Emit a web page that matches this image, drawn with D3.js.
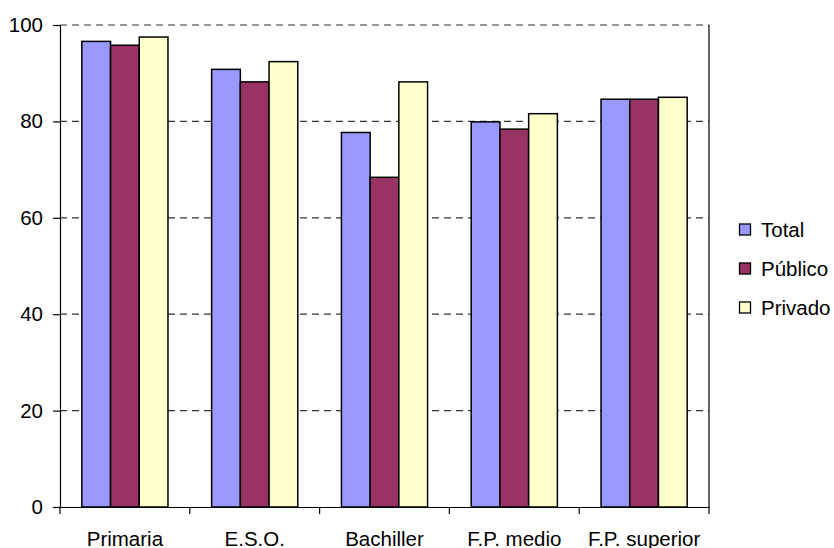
<!DOCTYPE html>
<html><head><meta charset="utf-8">
<script src="https://cdn.jsdelivr.net/npm/d3@7"></script>
<style>body{margin:0;background:#fff}svg{display:block;font-family:"Liberation Sans",Arial,sans-serif}</style>
</head><body><svg id="c" width="834" height="548"></svg>
<script>
const categories = ["Primaria","E.S.O.","Bachiller","F.P. medio","F.P. superior"];
const seriesNames = ["Total","Público","Privado"];
const total   = [96.6, 90.8, 77.7, 79.9, 84.6];
const publico = [95.8, 88.2, 68.4, 78.4, 84.6];
const privado = [97.5, 92.4, 88.2, 81.6, 85.0];
const yTicks = [0,20,40,60,80,100];
const colors = ["#9999FF","#993366","#FFFFCC"];
const values = [total, publico, privado];

const svg = d3.select("#c");
const L=60, R=709, T=25, B=507;
const x0 = d3.scaleBand().domain(categories).range([L,R]).padding(0);
const x1 = d3.scaleBand().domain(seriesNames).range([0,x0.bandwidth()]).paddingInner(0).paddingOuter(0.76);
const y = d3.scaleLinear().domain([0,100]).range([B,T]);

// gridlines
svg.append("g").selectAll("line").data(yTicks.filter(d=>d>0)).join("line")
  .attr("x1",L).attr("x2",R).attr("y1",d=>y(d)).attr("y2",d=>y(d))
  .attr("stroke","#333").attr("stroke-width",1.2).attr("stroke-dasharray","7,5");
// right border
svg.append("line").attr("x1",R).attr("x2",R).attr("y1",T).attr("y2",B).attr("stroke","#000").attr("stroke-width",1.2);

// bars
const g = svg.append("g");
categories.forEach((c,i)=>{
  seriesNames.forEach((s,j)=>{
    g.append("rect")
      .attr("x", x0(c)+x1(s)).attr("width", x1.bandwidth())
      .attr("y", y(values[j][i])).attr("height", B - y(values[j][i]))
      .attr("fill", colors[j]).attr("stroke","#000").attr("stroke-width",1.5);
  });
});

// y axis
const ya = svg.append("g").attr("transform",`translate(${L},0)`)
  .call(d3.axisLeft(y).tickValues(yTicks).tickSize(7).tickPadding(10).tickSizeOuter(0));
ya.select(".domain").attr("stroke","#000").attr("stroke-width",1.2);
ya.selectAll(".tick line").attr("stroke","#000").attr("stroke-width",1.2);
ya.selectAll("text").attr("font-size","20.5px").attr("font-family","Liberation Sans, Arial, sans-serif").attr("fill","#000");

// x axis
const xa = svg.append("g").attr("transform",`translate(0,${B})`)
  .call(d3.axisBottom(x0).tickSize(0).tickPadding(0).tickSizeOuter(0));
xa.select(".domain").attr("stroke","#000").attr("stroke-width",1.2);
xa.selectAll(".tick text").attr("font-size","20.5px").attr("font-family","Liberation Sans, Arial, sans-serif")
  .attr("fill","#000").attr("dy",0).attr("y",38.5);
// category separator ticks
const bounds = categories.map(c=>x0(c)).concat([R]);
svg.append("g").selectAll("line").data(bounds).join("line")
  .attr("x1",d=>d).attr("x2",d=>d).attr("y1",B).attr("y2",B+7).attr("stroke","#000").attr("stroke-width",1.2);

// legend
const lg = svg.append("g");
seriesNames.forEach((s,j)=>{
  const cy = 229.5 + j*39;
  lg.append("rect").attr("x",739.5).attr("y",cy-5.5).attr("width",11).attr("height",11)
    .attr("fill",colors[j]).attr("stroke","#000").attr("stroke-width",1.3);
  lg.append("text").attr("x",761).attr("y",cy).attr("dy","0.36em")
    .attr("font-size","20.5px").text(s);
});
</script></body></html>
